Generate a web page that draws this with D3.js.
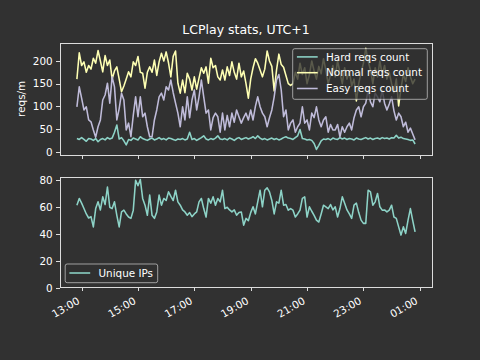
<!DOCTYPE html>
<html><head><meta charset="utf-8">
<script src="https://cdn.jsdelivr.net/npm/d3@7"></script>
<style>
html,body{margin:0;padding:0;background:#313131;}
svg{display:block;}
text{font-family:"DejaVu Sans",sans-serif;fill:#ffffff;}
</style>
</head><body>
<svg id="chart" width="480" height="360"></svg>
<script>
// ---------------- data ----------------
const startTime = "12:50";      // first sample
const stepMinutes = 5;          // sampling interval
const seriesNames = ["Hard reqs count", "Normal reqs count", "Easy reqs count"];
const ipSeriesName = "Unique IPs";
const titleText = "LCPlay stats, UTC+1";
const yLabelText = "reqs/m";
const xTickLabels = ["13:00","15:00","17:00","19:00","21:00","23:00","01:00"];
const topYTicks = [0, 50, 100, 150, 200];
const bottomYTicks = [0, 20, 40, 60, 80];

const hardReqs = [29,27,31,27,23,29,28,25,29,22,27,29,26,31,28,30,43,59,28,31,24,15,27,25,30,28,26,33,29,27,
25,28,30,26,28,31,27,29,26,30,29,27,25,28,27,29,26,28,43,27,29,25,28,31,35,28,26,29,27,30,
35,28,27,29,26,30,28,25,29,31,27,29,31,28,30,33,29,35,30,27,29,26,28,30,27,29,26,28,31,33,
30,29,27,31,35,49,29,28,26,27,25,18,5,14,24,28,27,29,26,30,28,27,31,28,30,27,29,28,26,30,
28,27,29,31,28,30,27,29,30,28,31,29,30,28,31,30,36,30,32,29,28,27,25,26,17];

const normalReqs = [160,218,190,198,175,190,182,206,195,223,200,176,212,190,202,160,178,187,160,132,
145,160,176,165,198,190,210,175,173,140,175,187,175,202,168,198,217,200,220,196,
165,210,222,151,129,158,130,173,160,136,165,138,162,185,173,187,151,206,185,190,
165,158,180,158,187,168,198,175,160,195,
165,178,150,118,160,185,205,195,180,165,182,222,200,188,134,180,215,192,186,168,150,146,150,
175,160,195,170,185,150,170,200,178,160,188,172,205,180,150,170,190,165,200,175,
150,185,160,178,145,160,112,150,175,195,228,200,180,150,185,165,200,170,190,160,
175,150,130,160,101,140,170,155,185,165,150,160];

const easyReqs = [99,143,118,92,99,70,66,48,32,55,70,114,125,151,107,165,143,70,95,129,
114,48,63,33,80,121,77,121,77,85,55,33,33,70,92,121,
129,114,143,136,158,130,107,85,55,99,70,121,75,114,136,92,121,158,121,85,92,48,75,85,
77,43,85,48,80,55,85,65,92,77,
63,75,85,70,92,70,100,121,99,85,77,55,75,92,121,158,170,136,77,92,48,63,70,43,55,
63,99,63,70,48,85,75,99,70,55,70,77,43,60,48,48,60,33,55,43,55,63,48,75,92,
99,77,99,107,136,110,99,129,121,110,136,107,92,105,121,90,70,85,77,55,65,43,52,39,26];

const uniqueIPs = [61.5,66.5,63,59,55,52,53,45.4,59,64,58,67.7,62,75,60,59,64,54,45.4,56.5,
57.8,55,52.7,51.7,57.8,80,76,80.6,66.5,61.5,54,69,54,51.7,56.5,69,61.5,66.5,65,71.4,
68,65,72.6,64,61.5,58,56.5,54,56,53,55,56.5,64,66.5,59,52.7,66.5,63,67.7,61.5,
66.5,64,72.6,59,60,58,56.5,58,54,56,
56.5,46.7,51.7,50,56,60.3,55,64,72.6,60.3,72.6,74.4,71.4,65,55,64,63,72.6,61.5,62,
57.8,59,57.8,52.7,55,57.8,66.5,67.7,52.7,60.3,57,54,50.4,49,55,61.5,60.3,59,62,58,
60.3,52.7,59,67.7,63,58,55,51.7,61.5,63,56,50.4,48,48,72.6,71.4,61.5,64,70.2,60.3,
57.8,58,56.5,57.8,61.5,52.7,51.7,45.4,39.3,45.4,40.5,50.4,59,50,41.7];

const colors = ["#8dd3c7", "#feffb3", "#bfbbd9"];

// ---------------- layout ----------------
const W = 480, H = 360;
const bg = "#313131", spineColor = "#dcdcdc";
const axL = 60, axR = 432;
const top1 = 43.2, bot1 = 154.5, top2 = 176.7, bot2 = 288;
const fs = 10.4, tickLen = 3.65, tickPad = 3.65;

const svg = d3.select("#chart");
svg.append("rect").attr("width", W).attr("height", H).attr("fill", bg);

function parseHM(s, dayOffset) {
  const [h, m] = s.split(":").map(Number);
  return new Date(2000, 0, 1 + dayOffset, h, m);
}
const t0 = parseHM(startTime, 0);
const times = hardReqs.map((_, i) => new Date(t0.getTime() + i * stepMinutes * 60000));
const tMin = times[0].getTime(), tMax = times[times.length - 1].getTime();
const span = tMax - tMin;
const x = d3.scaleTime()
  .domain([new Date(tMin - 0.05 * span), new Date(tMax + 0.05 * span)])
  .range([axL, axR]);
const tickDates = xTickLabels.map(s => {
  const h = +s.split(":")[0];
  return parseHM(s, h < 12 ? 1 : 0);
});

// y scales
const allTop = hardReqs.concat(normalReqs, easyReqs);
const tMinV = d3.min(allTop), tMaxV = d3.max(allTop);
const y1 = d3.scaleLinear()
  .domain([tMinV - 0.05 * (tMaxV - tMinV), tMaxV + 0.05 * (tMaxV - tMinV)])
  .range([bot1, top1]);
const ipMin = d3.min(uniqueIPs), ipMax = d3.max(uniqueIPs);
const y2 = d3.scaleLinear()
  .domain([0, ipMax + 0.05 * (ipMax - ipMin)])
  .range([bot2, top2]);

function drawYAxis(scale, ticks) {
  const g = svg.append("g").attr("transform", `translate(${axL},0)`)
    .style("font-size", fs + "px")
    .call(d3.axisLeft(scale).tickValues(ticks).tickSize(tickLen).tickPadding(tickPad).tickFormat(d3.format("d")));
  g.select(".domain").remove();
  g.selectAll("line").attr("stroke", spineColor).attr("shape-rendering", "crispEdges");
  g.selectAll("text").attr("fill", "#ffffff").attr("font-family", "DejaVu Sans");
}
function drawXTicks(yPos, withLabels) {
  const g = svg.append("g").attr("transform", `translate(0,${yPos})`)
    .style("font-size", fs + "px")
    .call(d3.axisBottom(x).tickValues(tickDates).tickSize(tickLen).tickFormat(""));
  g.select(".domain").remove();
  g.selectAll("line").attr("stroke", spineColor).attr("shape-rendering", "crispEdges");
  g.selectAll("text").remove();
  if (withLabels) {
    svg.append("g").selectAll("text").data(tickDates).join("text")
      .attr("transform", (d, i) => `translate(${x(d) - 1.2},${yPos + 15.5}) rotate(-30)`)
      .attr("text-anchor", "end")
      .attr("font-size", fs + "px")
      .text((d, i) => xTickLabels[i]);
  }
}
function frame(t, b) {
  svg.append("rect").attr("x", axL + 0.5).attr("y", t + 0.5)
    .attr("width", axR - axL).attr("height", b - t)
    .attr("fill", "none").attr("stroke", spineColor).attr("stroke-width", 1)
    .attr("shape-rendering", "crispEdges");
}
function drawLine(values, yScale, color) {
  const line = d3.line().x((d, i) => x(times[i])).y(d => yScale(d));
  svg.append("path").datum(values).attr("d", line)
    .attr("fill", "none").attr("stroke", color).attr("stroke-width", 1.56)
    .attr("stroke-linejoin", "round");
}
function legend(lx, ly, lw, lh, items, rowY0, rowStep) {
  const g = svg.append("g");
  g.append("rect").attr("x", lx).attr("y", ly).attr("width", lw).attr("height", lh)
    .attr("rx", 2).attr("fill", bg).attr("fill-opacity", 0.8)
    .attr("stroke", "#cccccc").attr("stroke-opacity", 0.8).attr("stroke-width", 0.9);
  items.forEach((it, i) => {
    const yy = rowY0 + i * rowStep;
    g.append("line").attr("x1", lx + 4.2).attr("x2", lx + 25).attr("y1", yy).attr("y2", yy)
      .attr("stroke", it.color).attr("stroke-width", 1.56);
    g.append("text").attr("x", lx + 33.3).attr("y", yy).attr("dy", "0.36em")
      .attr("font-size", fs + "px").text(it.name);
  });
}

// ---------- top axes ----------
drawLine(hardReqs, y1, colors[0]);
drawLine(normalReqs, y1, colors[1]);
drawLine(easyReqs, y1, colors[2]);
drawYAxis(y1, topYTicks);
drawXTicks(bot1 + 0.5, false);
frame(top1, bot1);
legend(292.7, 48.7, 134.6, 50.6,
  seriesNames.map((n, i) => ({ name: n, color: colors[i] })), 56.9, 15.8);

// ---------- bottom axes ----------
drawLine(uniqueIPs, y2, colors[0]);
drawYAxis(y2, bottomYTicks);
drawXTicks(bot2 - 0.5, true);
frame(top2, bot2 - 1);
legend(65.2, 264, 92.5, 18.7, [{ name: ipSeriesName, color: colors[0] }], 273, 15.8);

// title and y label
svg.append("text").attr("x", (axL + axR) / 2).attr("y", 34.2).attr("text-anchor", "middle")
  .attr("font-size", "12.5px").text(titleText);
svg.append("text").attr("transform", `translate(25,${(top1 + bot1) / 2}) rotate(-90)`)
  .attr("text-anchor", "middle").attr("font-size", fs + "px").text(yLabelText);
</script>
</body></html>
